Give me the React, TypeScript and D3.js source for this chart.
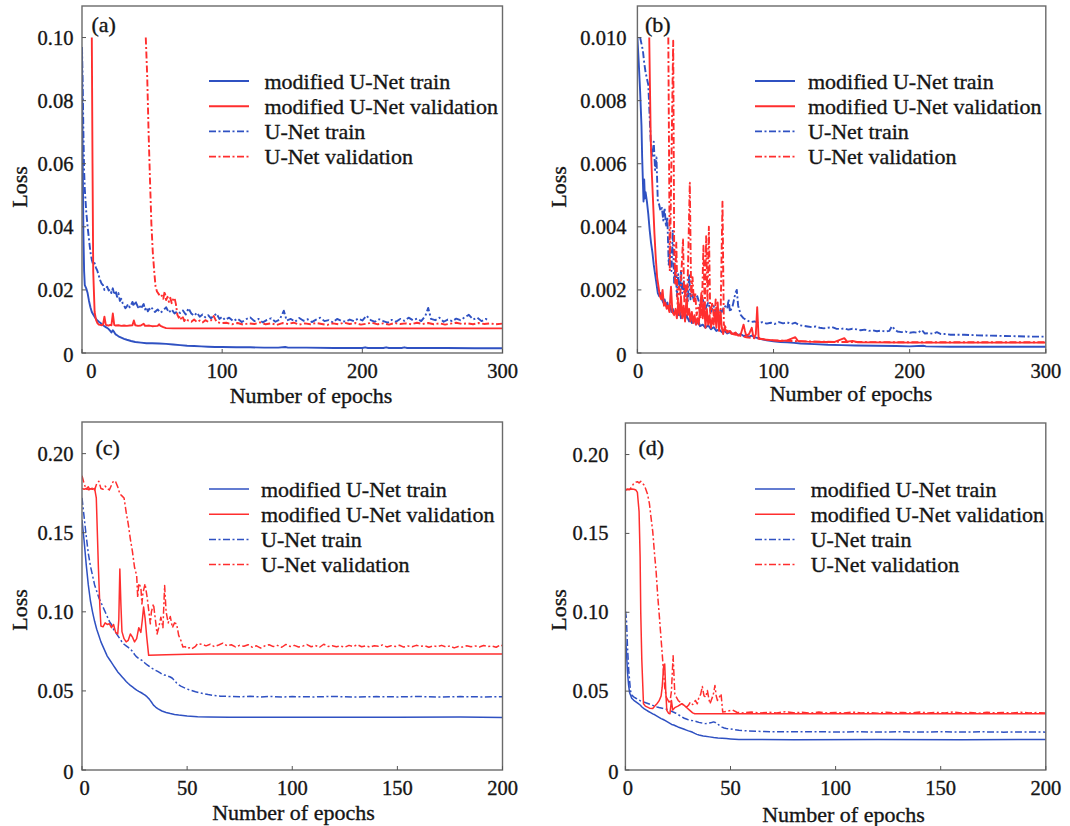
import React from 'react';
import * as d3 from 'd3';

type Pt = [number, number];

const BLUE = '#2f51c2';
const RED = '#ff2e2e';
const FONT = "'Liberation Serif', 'Times New Roman', serif";

const legendLabels = ['modified U-Net train', 'modified U-Net validation', 'U-Net train', 'U-Net validation'];
const xLabel = 'Number of epochs';
const yLabel = 'Loss';

// ---------- panel (a) ----------
const aTicksX = [0, 100, 200, 300];
const aTicksY = [0, 0.02, 0.04, 0.06, 0.08, 0.10];
const aModTrain: Pt[] = [[0,0.095],[0.5,0.062],[1,0.038],[1.5,0.026],[2,0.0215],[3,0.0205],[4,0.019],[5,0.0165],[6,0.0145],[7,0.013],[8,0.0122],[9,0.0115],[10,0.0108],[11,0.0103],[12,0.0099],[13,0.0096],[14,0.0092],[15,0.0088],[16,0.0085],[17,0.0082],[18,0.0079],[19,0.0076],[20,0.0071],[21,0.0065],[22,0.0072],[23,0.0066],[24,0.0059],[25,0.0056],[26,0.0053],[28,0.0049],[30,0.0045],[32,0.0042],[35,0.0038],[38,0.0035],[42,0.0033],[46,0.0031],[50,0.0031],[55,0.003],[60,0.0029],[65,0.0027],[70,0.0025],[75,0.0023],[80,0.0022],[85,0.0021],[90,0.002],[95,0.0019],[100,0.0019],[110,0.0018],[120,0.0018],[130,0.0017],[140,0.0017],[145,0.0019],[147,0.0017],[160,0.0017],[180,0.0016],[200,0.0016],[202,0.0018],[204,0.0016],[215,0.0016],[217,0.0018],[219,0.0016],[228,0.0016],[230,0.0018],[232,0.0016],[260,0.0016],[280,0.0015],[300,0.0015]];
const aModVal: Pt[] = [[7,0.1],[7.5,0.06],[8,0.026],[9,0.013],[10,0.0105],[11,0.0095],[12,0.009],[13,0.0089],[14,0.0088],[15,0.009],[16,0.0115],[17,0.0089],[18,0.0088],[19,0.0087],[20,0.0089],[21,0.0088],[22,0.0125],[23,0.0089],[24,0.0087],[26,0.0088],[28,0.0086],[30,0.0087],[32,0.0086],[34,0.0087],[36,0.0088],[37,0.0103],[38,0.0088],[40,0.0086],[42,0.0087],[44,0.0093],[45,0.0086],[48,0.0087],[50,0.0085],[54,0.0086],[55,0.0091],[56,0.0086],[58,0.0082],[60,0.0079],[65,0.0078],[300,0.0078]];
const aUTrain: Pt[] = [[0,0.097],[0.5,0.085],[1,0.07],[1.5,0.058],[2,0.052],[3,0.045],[4,0.04],[5,0.036],[6,0.032],[7,0.0295],[8,0.028],[9,0.0285],[10,0.027],[11,0.026],[12,0.0245],[13,0.023],[14,0.022],[15,0.0215],[16,0.02],[17,0.0205],[18,0.021],[19,0.0198],[20,0.0202],[21,0.019],[22,0.0205],[23,0.0185],[24,0.0198],[25,0.0178],[26,0.019],[27,0.0165],[28,0.0172],[29,0.0158],[30,0.015],[31,0.0142],[32,0.0148],[33,0.0155],[34,0.0145],[35,0.0152],[36,0.0162],[37,0.0148],[38,0.0165],[39,0.0155],[40,0.0145],[41,0.0152],[42,0.014],[43,0.0148],[44,0.0155],[45,0.0138],[46,0.0145],[47,0.0132],[48,0.014],[49,0.0135],[50,0.0142],[52,0.013],[54,0.0138],[56,0.0128],[58,0.0135],[60,0.0145],[62,0.0128],[64,0.0138],[66,0.0125],[68,0.0132],[70,0.0127],[72,0.0135],[74,0.0122],[76,0.0142],[78,0.0125],[80,0.0118],[82,0.0128],[84,0.0115],[86,0.0122],[88,0.0113],[90,0.012],[92,0.011],[94,0.0118],[96,0.0125],[98,0.0108],[100,0.0115],[102,0.0105],[105,0.0112],[108,0.0101],[111,0.0109],[114,0.0098],[117,0.0107],[120,0.0113],[123,0.0101],[126,0.0108],[129,0.0097],[132,0.0105],[135,0.011],[138,0.0099],[141,0.0106],[144,0.0134],[146,0.0103],[149,0.0108],[152,0.0099],[155,0.0111],[158,0.0102],[161,0.0107],[164,0.0098],[167,0.0106],[170,0.0112],[173,0.0101],[176,0.0104],[179,0.0097],[182,0.0108],[185,0.0102],[188,0.0099],[191,0.0106],[194,0.0101],[197,0.0109],[200,0.0103],[203,0.0118],[206,0.0104],[209,0.0099],[212,0.0107],[215,0.0101],[218,0.0096],[221,0.0105],[224,0.0099],[227,0.0108],[230,0.0102],[233,0.0112],[236,0.0104],[239,0.0109],[242,0.0101],[245,0.0118],[247,0.0143],[249,0.0108],[252,0.0104],[255,0.0112],[258,0.0099],[261,0.0106],[264,0.0101],[267,0.0109],[270,0.0104],[273,0.0113],[276,0.0121],[279,0.0106],[282,0.0112],[285,0.0101],[288,0.0108],[290,0.0103]];
const aUVal: Pt[] = [[45.5,0.1],[46.5,0.088],[47.5,0.07],[48.5,0.055],[49.5,0.041],[50.5,0.032],[51.5,0.026],[52.5,0.021],[53.5,0.0195],[55,0.0185],[56,0.0178],[57,0.0182],[58,0.0172],[59,0.0195],[60,0.0168],[61,0.0178],[62,0.0162],[63,0.0175],[64,0.0158],[65,0.017],[66,0.0175],[67,0.0155],[68,0.0122],[69,0.0112],[70,0.0118],[71,0.0105],[72,0.0113],[73,0.0101],[74,0.0109],[76,0.0102],[78,0.0099],[80,0.0106],[82,0.0098],[84,0.0103],[86,0.0097],[88,0.0104],[90,0.0099],[92,0.0103],[94,0.0117],[96,0.0098],[99,0.0095],[103,0.0096],[107,0.0091],[111,0.0095],[115,0.009],[119,0.0094],[123,0.0092],[127,0.0097],[131,0.0091],[135,0.0094],[139,0.0089],[143,0.0095],[147,0.0092],[151,0.0096],[155,0.009],[159,0.0094],[163,0.0091],[167,0.0095],[171,0.0092],[175,0.0089],[179,0.0094],[183,0.0091],[187,0.0096],[191,0.0092],[195,0.0095],[199,0.009],[203,0.0093],[207,0.0096],[211,0.0091],[215,0.0094],[219,0.009],[223,0.0095],[227,0.0092],[231,0.0094],[235,0.0091],[239,0.0096],[243,0.0092],[247,0.0095],[251,0.0091],[255,0.0094],[259,0.009],[263,0.0093],[267,0.0096],[271,0.0092],[275,0.0094],[279,0.0091],[283,0.0095],[287,0.0092],[291,0.0094],[295,0.0091],[300,0.0093]];

// ---------- panel (b) ----------
const bTicksX = [0, 100, 200, 300];
const bTicksY = [0, 0.002, 0.004, 0.006, 0.008, 0.010];
const bModTrain: Pt[] = [[0,0.01],[1,0.0092],[2,0.0083],[3,0.0072],[3.5,0.0062],[4,0.0055],[4.5,0.0048],[5,0.0055],[5.5,0.0049],[6,0.0051],[7,0.0048],[8,0.0044],[9,0.0039],[10,0.0035],[11,0.0032],[12,0.0028],[13,0.0025],[14,0.0022],[15,0.0019],[16,0.0018],[17,0.0019],[18,0.0017],[19,0.0016],[20,0.0017],[21,0.0015],[22,0.0016],[23,0.0014],[24,0.0015],[25,0.0013],[26,0.0014],[27,0.00125],[28,0.0013],[30,0.0012],[31,0.00135],[32,0.0011],[34,0.00125],[35,0.00105],[36,0.0012],[38,0.001],[39,0.0011],[40,0.00095],[42,0.00105],[43,0.0009],[45,0.001],[46,0.00085],[48,0.0009],[50,0.0008],[52,0.00088],[54,0.00075],[56,0.00082],[58,0.0007],[60,0.00075],[62,0.00066],[64,0.0007],[66,0.00062],[68,0.00066],[70,0.0006],[72,0.00063],[74,0.00057],[76,0.0006],[78,0.00054],[80,0.00056],[82,0.00052],[84,0.00055],[86,0.0005],[88,0.00048],[90,0.00045],[95,0.0004],[100,0.00037],[105,0.00035],[110,0.00034],[115,0.00032],[120,0.0003],[130,0.00028],[140,0.00026],[150,0.00025],[160,0.00024],[175,0.00023],[190,0.00022],[200,0.00021],[210,0.00023],[212,0.00021],[230,0.0002],[260,0.0002],[300,0.0002]];
const bModVal: Pt[] = [[8.7,0.01],[9.2,0.0085],[9.8,0.0068],[10.5,0.0058],[11.5,0.0048],[12.5,0.0038],[13.5,0.003],[14.5,0.0024],[15.5,0.0021],[16.5,0.0018],[17.5,0.0017],[18.5,0.002],[19.5,0.0015],[20.5,0.0016],[21.5,0.0014],[22.5,0.0015],[23.5,0.0013],[24.7,0.0021],[25.7,0.0013],[27,0.0012],[28,0.0014],[29,0.0011],[30,0.0016],[31,0.0012],[32,0.0018],[33,0.0011],[34,0.0015],[35,0.001],[36,0.0017],[37,0.0012],[38,0.0014],[39,0.001],[40,0.0013],[41,0.00095],[42,0.0012],[43,0.0009],[44,0.0011],[45,0.0009],[46,0.0014],[47,0.0019],[48,0.0011],[49,0.0016],[50,0.0008],[51,0.0014],[52,0.0009],[53,0.0012],[54,0.0008],[55,0.0011],[56,0.0009],[57,0.0013],[58,0.0008],[59,0.0016],[60,0.0007],[61,0.0013],[62,0.0008],[63,0.0006],[64,0.0008],[66,0.00065],[68,0.0007],[70,0.0006],[72,0.00065],[74,0.00055],[76,0.0006],[78,0.0009],[79,0.0007],[80,0.00055],[82,0.0006],[84,0.0008],[85,0.00055],[86,0.0005],[87,0.0006],[88,0.00145],[89,0.0005],[90,0.00045],[95,0.00042],[100,0.0004],[105,0.00038],[110,0.0004],[116,0.0005],[118,0.00038],[125,0.00036],[135,0.00035],[145,0.00035],[152,0.00047],[154,0.00036],[158,0.00038],[162,0.00034],[200,0.00033],[300,0.00033]];
const bUTrain: Pt[] = [[2,0.01],[3,0.0098],[4,0.0096],[5,0.0092],[6,0.0089],[7,0.0087],[8,0.0085],[9,0.0075],[10,0.0065],[11,0.0062],[12,0.0067],[13,0.0058],[14,0.0062],[15,0.0048],[16,0.0047],[17,0.0045],[18,0.0046],[19,0.0042],[20,0.0046],[21,0.004],[22,0.0043],[23,0.0028],[24,0.0033],[25,0.0026],[26,0.0039],[27,0.0022],[28,0.0028],[29,0.0018],[30,0.0025],[31,0.002],[32,0.0026],[33,0.0019],[34,0.0023],[35,0.0018],[36,0.0021],[37,0.0016],[38,0.0025],[39,0.0017],[40,0.0019],[42,0.0016],[44,0.0018],[46,0.0015],[48,0.0017],[50,0.0014],[52,0.0016],[54,0.0013],[56,0.0015],[58,0.0012],[60,0.0014],[62,0.0013],[64,0.0015],[66,0.0014],[67,0.0017],[68,0.0013],[70,0.0015],[72,0.0019],[73,0.002],[74,0.0015],[76,0.0012],[78,0.0011],[80,0.00105],[83,0.00098],[86,0.001],[89,0.00095],[92,0.00098],[95,0.00093],[98,0.00096],[101,0.00092],[104,0.00098],[107,0.00094],[110,0.00097],[113,0.00092],[116,0.00096],[119,0.00088],[122,0.00086],[125,0.00084],[128,0.00082],[131,0.00084],[134,0.0008],[137,0.00078],[140,0.0008],[143,0.00082],[146,0.00077],[149,0.00076],[152,0.00078],[155,0.00074],[158,0.00077],[161,0.00075],[164,0.00072],[167,0.00074],[170,0.0007],[173,0.00072],[176,0.00069],[179,0.00071],[182,0.00068],[185,0.0007],[187,0.00085],[189,0.00075],[191,0.00068],[194,0.00066],[197,0.00068],[200,0.00064],[203,0.00066],[206,0.00064],[209,0.00073],[211,0.00062],[214,0.00063],[217,0.00061],[220,0.00066],[223,0.0006],[226,0.0006],[230,0.00058],[240,0.00058],[250,0.00056],[260,0.00055],[270,0.00054],[280,0.00053],[290,0.00052],[300,0.00052]];
const bUVal: Pt[] = [[22.7,0.01],[23.8,0.0026],[26.3,0.0099],[27,0.0035],[27.8,0.0022],[28.6,0.0035],[29.5,0.0015],[30.5,0.0021],[31.5,0.0018],[32.5,0.0027],[33.5,0.0036],[34.5,0.0016],[35.5,0.0022],[36.5,0.0014],[37.5,0.0034],[38.5,0.0054],[39.5,0.0018],[40.5,0.0024],[41.5,0.0016],[42.5,0.0019],[43.5,0.0012],[45,0.0015],[46.5,0.0011],[47.5,0.0016],[48.5,0.0034],[49.5,0.0013],[50.5,0.0037],[51.5,0.0016],[52.5,0.004],[53.5,0.0012],[55,0.0016],[56.5,0.001],[57.5,0.0017],[58.5,0.0011],[59.5,0.0014],[61,0.0009],[62.5,0.0048],[63.5,0.0009],[65,0.0008],[67,0.00065],[70,0.0006],[75,0.00055],[80,0.0005],[90,0.00045],[100,0.0004],[120,0.00037],[150,0.00035],[200,0.00034],[300,0.00034]];

// ---------- panel (c) ----------
const cTicksX = [0, 50, 100, 150, 200];
const cTicksY = [0, 0.05, 0.10, 0.15, 0.20];
const cModTrain: Pt[] = [[0,0.158],[1,0.145],[2,0.13],[3,0.117],[4,0.107],[5,0.1],[6,0.094],[7,0.089],[8,0.085],[9,0.081],[10,0.078],[11,0.075],[12,0.072],[13,0.07],[14,0.068],[15,0.066],[16,0.064],[17,0.062],[18,0.0605],[19,0.059],[20,0.0575],[21,0.056],[22,0.0547],[23,0.0535],[24,0.0525],[25,0.0515],[26,0.0505],[27,0.0497],[28,0.049],[29,0.0482],[30,0.0473],[31,0.0462],[32,0.0448],[33,0.043],[34,0.041],[35,0.0398],[36,0.0388],[38,0.0373],[40,0.0364],[42,0.0357],[44,0.0351],[46,0.0347],[48,0.0344],[50,0.0341],[55,0.0337],[60,0.0335],[70,0.0333],[80,0.0334],[100,0.0333],[120,0.0334],[150,0.0333],[180,0.0335],[200,0.0332]];
const cModVal: Pt[] = [[0,0.178],[1,0.1775],[2,0.178],[3,0.1772],[4,0.1778],[5,0.1775],[6,0.178],[6.8,0.172],[7.3,0.15],[7.8,0.128],[8.5,0.103],[9,0.091],[10,0.0905],[11,0.093],[12,0.092],[13,0.0925],[14,0.09],[15,0.092],[16,0.087],[17,0.086],[17.5,0.095],[18,0.127],[18.5,0.105],[19,0.0875],[20,0.083],[21,0.081],[22,0.082],[23,0.086],[24,0.084],[25,0.081],[26,0.083],[27,0.09],[28,0.087],[28.7,0.095],[29.3,0.103],[30,0.096],[30.8,0.084],[31.7,0.0725],[40,0.0728],[50,0.0732],[60,0.0733],[200,0.0733]];
const cUTrain: Pt[] = [[0,0.172],[1,0.16],[2,0.148],[3,0.137],[4,0.129],[5,0.123],[6,0.117],[7,0.113],[8,0.109],[9,0.106],[10,0.103],[11,0.1],[12,0.097],[13,0.094],[14,0.092],[15,0.089],[16,0.087],[17,0.085],[18,0.083],[19,0.081],[20,0.0795],[21,0.0785],[22,0.0775],[23,0.0765],[24,0.075],[25,0.073],[26,0.0715],[27,0.0705],[28,0.0697],[29,0.069],[30,0.0675],[31,0.0665],[32,0.0655],[33,0.0645],[34,0.0638],[35,0.063],[36,0.0623],[37,0.0615],[38,0.0607],[39,0.0601],[40,0.0598],[41,0.0593],[42,0.0588],[43,0.058],[44,0.0565],[45,0.055],[46,0.0538],[47,0.053],[48,0.0524],[50,0.0512],[52,0.0503],[54,0.0495],[56,0.0488],[58,0.0482],[60,0.0477],[63,0.0471],[66,0.0467],[70,0.0465],[75,0.0463],[80,0.0466],[85,0.0462],[90,0.0465],[95,0.0461],[100,0.0464],[110,0.0462],[120,0.0465],[130,0.0461],[140,0.0464],[150,0.0462],[160,0.0465],[170,0.0461],[180,0.0464],[190,0.0462],[200,0.0463]];
const cUVal: Pt[] = [[0,0.186],[1,0.181],[2,0.1775],[3,0.179],[4,0.1765],[5,0.1785],[6,0.177],[7,0.181],[8,0.1825],[9,0.178],[10,0.1775],[11,0.1795],[12,0.178],[13,0.177],[14,0.18],[15,0.1828],[16,0.1822],[17,0.179],[18,0.1745],[19,0.1733],[20,0.172],[21,0.163],[22,0.1555],[23,0.146],[24,0.138],[25,0.128],[26,0.123],[26.5,0.109],[27,0.118],[28,0.1155],[28.5,0.105],[29,0.112],[30,0.1177],[31,0.109],[32,0.098],[32.5,0.0924],[33,0.1],[34,0.105],[35,0.094],[35.7,0.086],[36.5,0.09],[37.5,0.0966],[38.5,0.09],[39.3,0.1166],[40,0.1],[41,0.093],[42,0.097],[43,0.09],[44,0.093],[45,0.0924],[46,0.085],[47,0.082],[48,0.0777],[49,0.078],[50,0.0768],[51,0.0773],[52,0.0765],[54,0.0782],[55,0.0799],[57,0.0795],[59,0.0785],[61,0.0795],[63,0.078],[65,0.079],[67,0.0802],[69,0.0785],[71,0.0792],[73,0.0778],[75,0.0788],[77,0.0782],[79,0.0792],[81,0.0776],[83,0.0785],[85,0.0771],[87,0.0785],[89,0.0792],[91,0.078],[93,0.0788],[95,0.0776],[97,0.0794],[99,0.0781],[101,0.0788],[103,0.0778],[105,0.0783],[107,0.0793],[109,0.0779],[111,0.0787],[113,0.0776],[115,0.0795],[117,0.0781],[119,0.0786],[121,0.0779],[123,0.0784],[125,0.0776],[127,0.0788],[129,0.0781],[131,0.0792],[133,0.0779],[135,0.0785],[137,0.0777],[139,0.0786],[141,0.0782],[143,0.0791],[145,0.0778],[147,0.0786],[149,0.0781],[151,0.0789],[153,0.0777],[155,0.0784],[157,0.0779],[159,0.0788],[161,0.0782],[163,0.0786],[165,0.0776],[167,0.0785],[169,0.078],[171,0.0788],[173,0.0779],[175,0.0784],[177,0.0772],[179,0.0781],[181,0.0777],[183,0.0786],[185,0.0779],[187,0.0784],[189,0.0778],[191,0.0787],[193,0.078],[195,0.0783],[197,0.0776],[199,0.0791],[200,0.0785]];

// ---------- panel (d) ----------
const dTicksX = [0, 50, 100, 150, 200];
const dTicksY = [0, 0.05, 0.10, 0.15, 0.20];
const dModTrain: Pt[] = [[0,0.085],[0.5,0.075],[1,0.062],[1.5,0.054],[2,0.049],[3,0.0455],[4,0.0442],[5,0.0432],[6,0.0422],[7,0.0412],[8,0.0398],[9,0.0388],[10,0.0379],[11,0.0371],[12,0.0364],[13,0.0356],[14,0.035],[15,0.0342],[16,0.0334],[17,0.0326],[18,0.032],[19,0.0313],[20,0.0305],[21,0.0297],[22,0.0289],[23,0.0285],[24,0.0279],[25,0.0273],[26,0.0268],[27,0.0263],[28,0.0258],[29,0.0253],[30,0.0248],[31,0.0244],[32,0.0239],[33,0.0232],[34,0.0226],[35,0.0222],[36,0.0219],[37,0.0216],[38,0.0214],[40,0.021],[42,0.0206],[44,0.0203],[46,0.0201],[48,0.0199],[50,0.0197],[54,0.0194],[60,0.0193],[80,0.0192],[120,0.0193],[160,0.0192],[200,0.0193]];
const dModVal: Pt[] = [[0,0.1775],[1,0.178],[2,0.1778],[3,0.1782],[4,0.178],[5,0.1775],[5.7,0.176],[6.5,0.164],[7,0.135],[7.3,0.1],[7.8,0.07],[8.6,0.042],[9.5,0.0405],[10.5,0.0399],[11.5,0.0392],[13,0.039],[14,0.0405],[15,0.042],[16,0.0438],[17,0.047],[17.5,0.0525],[18.2,0.066],[18.7,0.0672],[19.2,0.05],[19.7,0.0378],[20.5,0.036],[21.2,0.0357],[21.9,0.0441],[22.5,0.038],[23.5,0.0395],[25,0.0405],[26.8,0.042],[28,0.041],[29.2,0.0395],[30.5,0.038],[32,0.0362],[33,0.0357],[50,0.0357],[100,0.0357],[200,0.0357]];
const dUTrain: Pt[] = [[0,0.1008],[0.5,0.096],[1,0.078],[1.6,0.063],[2.4,0.0504],[3,0.0475],[4.1,0.0462],[5,0.0455],[6,0.0448],[7,0.044],[8,0.0434],[9,0.043],[10,0.0425],[11,0.042],[12,0.0415],[13,0.041],[14,0.0405],[15,0.04],[16,0.0396],[17,0.0393],[18,0.039],[19,0.0387],[20,0.0383],[21,0.0378],[22,0.0372],[23,0.0366],[24,0.036],[25,0.0352],[26,0.0344],[27,0.0336],[28,0.0328],[29,0.0323],[30,0.0318],[31,0.0315],[32,0.0313],[33,0.031],[34,0.0306],[35,0.0302],[36,0.0299],[37,0.0297],[38,0.0294],[39,0.0296],[40,0.0298],[41,0.0301],[42,0.0305],[43,0.03],[44,0.029],[45,0.028],[46,0.0272],[47,0.0266],[48,0.0263],[50,0.026],[52,0.0256],[54,0.0252],[56,0.025],[58,0.0248],[62,0.0246],[66,0.0244],[70,0.0243],[80,0.0242],[90,0.0243],[100,0.0241],[110,0.0242],[120,0.0241],[130,0.0242],[140,0.0241],[150,0.0242],[160,0.0241],[170,0.0242],[180,0.024],[190,0.0241],[200,0.024]];
const dUVal: Pt[] = [[0,0.1775],[1,0.178],[2,0.1778],[3,0.1795],[4,0.1817],[5,0.1825],[5.7,0.1828],[6.5,0.182],[7.3,0.183],[8.1,0.1817],[9,0.1805],[9.7,0.178],[10.5,0.175],[11.4,0.1691],[12.2,0.16],[13,0.1513],[13.8,0.138],[14.6,0.126],[15.4,0.11],[16.2,0.0966],[17.4,0.0756],[18.7,0.0525],[19.5,0.046],[20.3,0.0441],[21.1,0.042],[21.9,0.05],[22.7,0.0725],[23.5,0.0483],[24.3,0.046],[25.1,0.0441],[26,0.043],[26.8,0.042],[28,0.041],[29.2,0.0399],[30,0.041],[30.9,0.043],[32,0.0415],[33.3,0.0441],[34.2,0.042],[35,0.0462],[35.8,0.048],[36.6,0.053],[37.4,0.047],[38.2,0.0462],[39,0.0504],[39.6,0.046],[40.2,0.042],[40.8,0.044],[41.4,0.0462],[42,0.049],[42.6,0.0536],[43.2,0.047],[43.8,0.0441],[44.6,0.046],[45.5,0.0483],[46.3,0.0367],[48,0.0372],[51,0.038],[53,0.0366],[56,0.0362],[60,0.0368],[64,0.0361],[68,0.0366],[72,0.0362],[76,0.0369],[80,0.0363],[84,0.0366],[88,0.0361],[92,0.0367],[96,0.0362],[100,0.0365],[104,0.0361],[108,0.0367],[112,0.0362],[116,0.0364],[120,0.036],[124,0.0366],[128,0.0362],[132,0.0365],[136,0.0361],[140,0.0367],[144,0.0362],[148,0.0365],[152,0.0361],[156,0.0368],[160,0.0362],[164,0.0364],[168,0.036],[172,0.0366],[176,0.0362],[180,0.0365],[184,0.0361],[188,0.0366],[192,0.0362],[196,0.0364],[200,0.0362]];

interface PanelCfg {
  id: string; tag: string;
  left: number; right: number; top: number; bottom: number;
  xMax: number; yMax: number; xTicks: number[]; yTicks: number[]; yDigits: number;
  zeroDx: number; yGap: number; yZeroGap: number; lw: number;
  legX: number; legY: number; legTextDx: number;
  xTitleX: number; xTitleY: number; yTitleX: number; yTitleY: number;
  tagX: number; tagY: number;
  series: { data: Pt[]; color: string; dash: boolean }[];
}

const DASH = '7 2.5 2 2.5';

const panels: PanelCfg[] = [
  { id: 'a', tag: '(a)', left: 82, right: 502.5, top: 6, bottom: 353, xMax: 300, yMax: 0.11, xTicks: aTicksX, yTicks: aTicksY, yDigits: 2, zeroDx: 9.4, yGap: 8.6, yZeroGap: 8.6, lw: 1.9,
    legX: 209, legY: 81, legTextDx: 55.5, xTitleX: 311, xTitleY: 395, yTitleX: 19, yTitleY: 187, tagX: 91.4, tagY: 24,
    series: [ { data: aUTrain, color: BLUE, dash: true }, { data: aUVal, color: RED, dash: true }, { data: aModTrain, color: BLUE, dash: false }, { data: aModVal, color: RED, dash: false } ] },
  { id: 'b', tag: '(b)', left: 637.4, right: 1045.8, top: 6, bottom: 353, xMax: 300, yMax: 0.011, xTicks: bTicksX, yTicks: bTicksY, yDigits: 3, zeroDx: 0.6, yGap: 11, yZeroGap: 11, lw: 1.9,
    legX: 755, legY: 81, legTextDx: 53, xTitleX: 851, xTitleY: 393, yTitleX: 558, yTitleY: 187, tagX: 645, tagY: 24,
    series: [ { data: bUTrain, color: BLUE, dash: true }, { data: bModTrain, color: BLUE, dash: false }, { data: bModVal, color: RED, dash: false }, { data: bUVal, color: RED, dash: true } ] },
  { id: 'c', tag: '(c)', left: 82, right: 502.5, top: 422, bottom: 770, xMax: 200, yMax: 0.22, xTicks: cTicksX, yTicks: cTicksY, yDigits: 2, zeroDx: 2.6, yGap: 8.6, yZeroGap: 8.6, lw: 1.5,
    legX: 209, legY: 489, legTextDx: 52, xTitleX: 293.5, xTitleY: 812, yTitleX: 19, yTitleY: 610, tagX: 95.5, tagY: 447,
    series: [ { data: cUTrain, color: BLUE, dash: true }, { data: cUVal, color: RED, dash: true }, { data: cModTrain, color: BLUE, dash: false }, { data: cModVal, color: RED, dash: false } ] },
  { id: 'd', tag: '(d)', left: 625.4, right: 1045.8, top: 423, bottom: 770, xMax: 200, yMax: 0.22, xTicks: dTicksX, yTicks: dTicksY, yDigits: 2, zeroDx: 2.4, yGap: 17, yZeroGap: 7, lw: 1.5,
    legX: 755, legY: 489, legTextDx: 55.7, xTitleX: 843.5, xTitleY: 814, yTitleX: 558, yTitleY: 610, tagX: 638.4, tagY: 447,
    series: [ { data: dUTrain, color: BLUE, dash: true }, { data: dUVal, color: RED, dash: true }, { data: dModTrain, color: BLUE, dash: false }, { data: dModVal, color: RED, dash: false } ] },
];

const legendStyles = [
  { color: BLUE, dash: false },
  { color: RED, dash: false },
  { color: BLUE, dash: true },
  { color: RED, dash: true },
];

const TEXT_FILL = '#151515';
const textWeight = { stroke: TEXT_FILL, strokeWidth: 0.35, paintOrder: 'stroke' as const };

function Panel({ p }: { p: PanelCfg }) {
  const x = d3.scaleLinear().domain([0, p.xMax]).range([p.left, p.right]);
  const y = d3.scaleLinear().domain([0, p.yMax]).range([p.bottom, p.top]);
  const line = d3.line<Pt>().x(d => x(d[0])).y(d => y(d[1]));
  const clipId = `clip-${p.id}`;
  const legGap = 25.2;
  return (
    <g>
      <defs>
        <clipPath id={clipId}>
          <rect x={p.left} y={p.top} width={p.right - p.left} height={p.bottom - p.top} />
        </clipPath>
      </defs>
      <g clipPath={`url(#${clipId})`}>
        {p.series.map((s, i) => (
          <path key={i} d={line(s.data) || ''} fill="none" stroke={s.color} strokeWidth={p.lw}
            strokeDasharray={s.dash ? DASH : undefined} strokeLinejoin="round" />
        ))}
      </g>
      <rect x={p.left} y={p.top} width={p.right - p.left} height={p.bottom - p.top} fill="none" stroke="#6a6a6a" strokeWidth={1.4} />
      {p.xTicks.map((t, i) => (
        <g key={`xt${i}`}>
          <line x1={x(t)} x2={x(t)} y1={p.bottom} y2={p.bottom - 4} stroke="#555" strokeWidth={1} />
          <text x={x(t) + (t === 0 ? p.zeroDx : 0)} y={p.bottom + 18} textAnchor="middle" dominantBaseline="central"
            fontFamily={FONT} fontSize={20.5} fill={TEXT_FILL} {...textWeight}>{t}</text>
        </g>
      ))}
      {p.yTicks.map((t, i) => (
        <g key={`yt${i}`}>
          <line x1={p.left} x2={p.left + 4} y1={y(t)} y2={y(t)} stroke="#555" strokeWidth={1} />
          <text x={p.left - (t === 0 ? p.yZeroGap : p.yGap)} y={y(t) + (t === 0 ? 2 : 0)} textAnchor="end" dominantBaseline="central"
            fontFamily={FONT} fontSize={20.5} fill={TEXT_FILL} {...textWeight}>{t === 0 ? '0' : t.toFixed(p.yDigits)}</text>
        </g>
      ))}
      <text x={p.xTitleX} y={p.xTitleY} textAnchor="middle" dominantBaseline="central" fontFamily={FONT} fontSize={22} fill={TEXT_FILL} {...textWeight}>{xLabel}</text>
      <text transform={`translate(${p.yTitleX},${p.yTitleY}) rotate(-90)`} textAnchor="middle" dominantBaseline="central" fontFamily={FONT} fontSize={22} fill={TEXT_FILL} {...textWeight}>{yLabel}</text>
      <text x={p.tagX} y={p.tagY} dominantBaseline="central" fontFamily={FONT} fontSize={22} fill={TEXT_FILL} {...textWeight}>{p.tag}</text>
      {legendLabels.map((lab, i) => {
        const ly = p.legY + i * legGap;
        const st = legendStyles[i];
        return (
          <g key={`lg${i}`}>
            <line x1={p.legX} x2={p.legX + 40} y1={ly} y2={ly} stroke={st.color} strokeWidth={p.lw}
              strokeDasharray={st.dash ? DASH : undefined} />
            <text x={p.legX + p.legTextDx} y={ly} dominantBaseline="central" fontFamily={FONT} fontSize={22} fill={TEXT_FILL} {...textWeight}>{lab}</text>
          </g>
        );
      })}
    </g>
  );
}

export default function App() {
  return (
    <svg width={1070} height={826} style={{ position: 'absolute', left: 0, top: 0, background: '#fff' }}>
      <rect x={0} y={0} width={1070} height={826} fill="#fff" />
      {panels.map(p => <Panel key={p.id} p={p} />)}
    </svg>
  );
}
